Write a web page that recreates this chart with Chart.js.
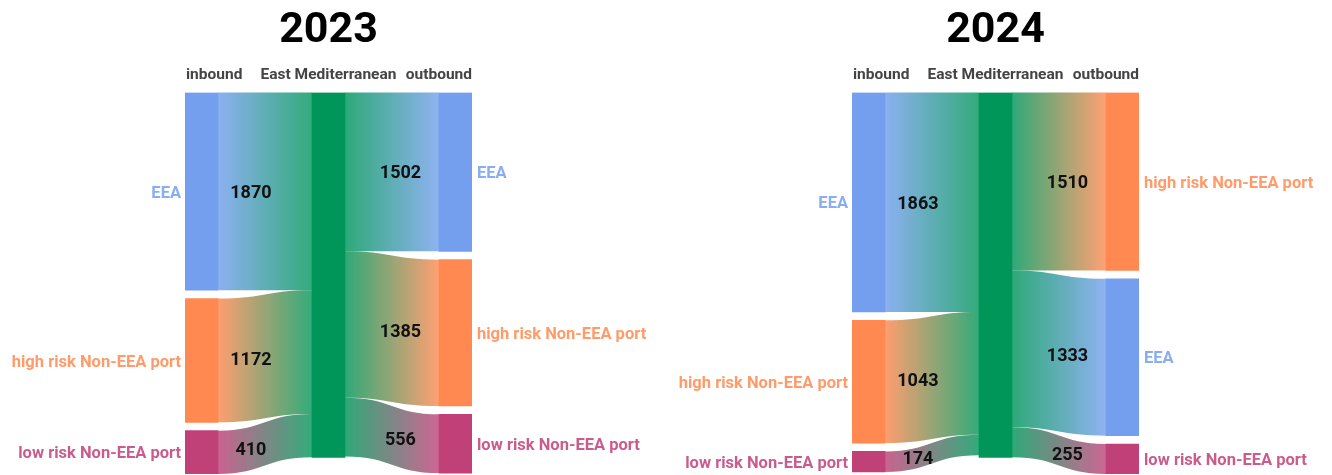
<!DOCTYPE html>
<html>
<head>
<meta charset="utf-8">
<script src="https://cdn.jsdelivr.net/npm/chart.js@4.4.1/dist/chart.umd.min.js"></script>
<style>
  body { margin: 0; background: #fff; width: 1332px; height: 475px; position: relative; overflow: hidden; }
  .panel { position: absolute; top: 0; width: 657px; height: 475px; }
</style>
</head>
<body>
<div class="panel" style="left:0"><canvas id="chart2023" width="657" height="475"></canvas></div>
<div class="panel" style="left:667px"><canvas id="chart2024" width="657" height="475"></canvas></div>
<script>
// column headers and hub node
const columns = ["inbound", "East Mediterranean", "outbound"];
const hubName = "East Mediterranean";

// 2023
const inLabels2023 = ["EEA", "high risk Non-EEA port", "low risk Non-EEA port"];
const inValues2023 = [1870, 1172, 410];
const outLabels2023 = ["EEA", "high risk Non-EEA port", "low risk Non-EEA port"];
const outValues2023 = [1502, 1385, 556];

// 2024
const inLabels2024 = ["EEA", "high risk Non-EEA port", "low risk Non-EEA port"];
const inValues2024 = [1863, 1043, 174];
const outLabels2024 = ["high risk Non-EEA port", "EEA", "low risk Non-EEA port"];
const outValues2024 = [1510, 1333, 255];

const nodeColors = {
  "EEA": [115, 159, 238],
  "high risk Non-EEA port": [255, 137, 80],
  "low risk Non-EEA port": [192, 64, 120],
  "East Mediterranean": [0, 150, 90]
};
const GAP = 0.0228;   // space between nodes, share of the column total
const FONT = "Roboto";

function rgba(c, a) {
  return `rgba(${c[0]},${c[1]},${c[2]},${a})`;
}

// stack the nodes of each column and work out where every link starts and ends
function buildLayout(inLabels, inValues, outLabels, outValues) {
  const sumIn = inValues.reduce((a, b) => a + b, 0);
  const sumOut = outValues.reduce((a, b) => a + b, 0);
  const total = Math.max(sumIn, sumOut);
  const gap = total * GAP;
  const nodes = [];
  const links = [];

  let pos = 0, hubPos = 0;
  inValues.forEach((v, i) => {
    nodes.push({ x: 0, y: [pos, pos + v], name: inLabels[i], side: "left" });
    links.push({ from: [pos, pos + v], to: [hubPos, hubPos + v], fromCol: 0, value: v, src: inLabels[i], dst: hubName });
    pos += v + gap;
    hubPos += v;
  });
  nodes.push({ x: 1, y: [0, total], name: hubName, side: "none" });

  pos = 0; hubPos = 0;
  outValues.forEach((v, i) => {
    nodes.push({ x: 2, y: [pos, pos + v], name: outLabels[i], side: "right" });
    links.push({ from: [hubPos, hubPos + v], to: [pos, pos + v], fromCol: 1, value: v, src: hubName, dst: outLabels[i] });
    pos += v + gap;
    hubPos += v;
  });
  return { nodes, links, yMax: total + 2 * gap };
}

// point on the link centre line for a given horizontal share f (0..1)
function curveY(f, y0, y1) {
  let lo = 0, hi = 1;
  for (let k = 0; k < 30; k++) {
    const t = (lo + hi) / 2;
    const xf = 1.5 * t - 1.5 * t * t + t * t * t;
    if (xf < f) lo = t; else hi = t;
  }
  const t = (lo + hi) / 2;
  return y0 + (y1 - y0) * (3 * t * t - 2 * t * t * t);
}

function columnEdges(chart, nodes) {
  const bars = chart.getDatasetMeta(0).data;
  const left = [], right = [], mid = [];
  nodes.forEach((n, i) => {
    left[n.x] = bars[i].x - bars[i].width / 2;
    right[n.x] = bars[i].x + bars[i].width / 2;
    mid[n.x] = bars[i].x;
  });
  return { left, right, mid };
}

const sankeyPlugin = {
  id: "sankey",
  beforeDatasetsDraw(chart, args, opts) {
    const ctx = chart.ctx;
    const y = chart.scales.y;
    const col = columnEdges(chart, opts.nodes);
    ctx.save();
    opts.links.forEach(l => {
      const x0 = col.right[l.fromCol], x1 = col.left[l.fromCol + 1];
      const xm = (x0 + x1) / 2;
      const a0 = y.getPixelForValue(l.from[0]), a1 = y.getPixelForValue(l.from[1]);
      const b0 = y.getPixelForValue(l.to[0]), b1 = y.getPixelForValue(l.to[1]);
      const grad = ctx.createLinearGradient(x0, 0, x1, 0);
      grad.addColorStop(0, rgba(nodeColors[l.src], 0.82));
      grad.addColorStop(1, rgba(nodeColors[l.dst], 0.8));
      ctx.fillStyle = grad;
      ctx.beginPath();
      ctx.moveTo(x0, a0);
      ctx.bezierCurveTo(xm, a0, xm, b0, x1, b0);
      ctx.lineTo(x1, b1);
      ctx.bezierCurveTo(xm, b1, xm, a1, x0, a1);
      ctx.closePath();
      ctx.fill();
    });
    ctx.restore();
  },
  afterDatasetsDraw(chart, args, opts) {
    const ctx = chart.ctx;
    const y = chart.scales.y;
    const area = chart.chartArea;
    const col = columnEdges(chart, opts.nodes);
    ctx.save();
    ctx.textBaseline = "middle";

    // column headers
    ctx.font = `bold 15.5px ${FONT}`;
    ctx.fillStyle = "#444";
    const hy = area.top - 17;
    ctx.textAlign = "left";
    ctx.fillText(columns[0], col.left[0] + 1, hy);
    ctx.textAlign = "center";
    ctx.fillText(columns[1], col.mid[1], hy);
    ctx.textAlign = "right";
    ctx.fillText(columns[2], col.right[2], hy);

    // node names
    ctx.font = `bold 16.5px ${FONT}`;
    opts.nodes.forEach(n => {
      if (n.side === "none") return;
      const cy = (y.getPixelForValue(n.y[0]) + y.getPixelForValue(n.y[1])) / 2;
      ctx.fillStyle = rgba(nodeColors[n.name], 0.85);
      if (n.side === "left") {
        ctx.textAlign = "right";
        ctx.fillText(n.name, col.left[0] - 4, cy + 2);
      } else {
        ctx.textAlign = "left";
        ctx.fillText(n.name, col.right[2] + 5, cy + 2);
      }
    });

    // link values
    ctx.font = `bold 18px ${FONT}`;
    ctx.fillStyle = "#111";
    ctx.textAlign = "center";
    opts.links.forEach(l => {
      const x0 = col.right[l.fromCol], x1 = col.left[l.fromCol + 1];
      const f = l.fromCol === 0 ? 0.35 : 0.59;
      const c0 = y.getPixelForValue((l.from[0] + l.from[1]) / 2);
      const c1 = y.getPixelForValue((l.to[0] + l.to[1]) / 2);
      ctx.fillText(String(l.value), x0 + (x1 - x0) * f, curveY(f, c0, c1) + 2);
    });
    ctx.restore();
  }
};

function drawSankey(canvasId, year, inLabels, inValues, outLabels, outValues) {
  const layout = buildLayout(inLabels, inValues, outLabels, outValues);
  return new Chart(document.getElementById(canvasId), {
    type: "bar",
    data: {
      datasets: [{
        data: layout.nodes.map(n => ({ x: n.x, y: n.y })),
        backgroundColor: layout.nodes.map(n => rgba(nodeColors[n.name], 1)),
        borderWidth: 0,
        barThickness: 33
      }]
    },
    options: {
      responsive: false,
      animation: false,
      layout: { padding: { left: 185, right: 185, top: 0, bottom: 1 } },
      scales: {
        x: { type: "linear", min: -0.13, max: 2.13, offset: false, display: false },
        y: { type: "linear", min: 0, max: layout.yMax, reverse: true, display: false }
      },
      plugins: {
        legend: { display: false },
        tooltip: { enabled: false },
        title: {
          display: true,
          text: year,
          color: "#000",
          font: { family: FONT, size: 43, weight: "bold" },
          padding: { top: 5, bottom: 36 }
        },
        sankey: { nodes: layout.nodes, links: layout.links }
      }
    },
    plugins: [sankeyPlugin]
  });
}

window.onload = function () {
  drawSankey("chart2023", "2023", inLabels2023, inValues2023, outLabels2023, outValues2023);
  drawSankey("chart2024", "2024", inLabels2024, inValues2024, outLabels2024, outValues2024);
};
</script>
</body>
</html>
